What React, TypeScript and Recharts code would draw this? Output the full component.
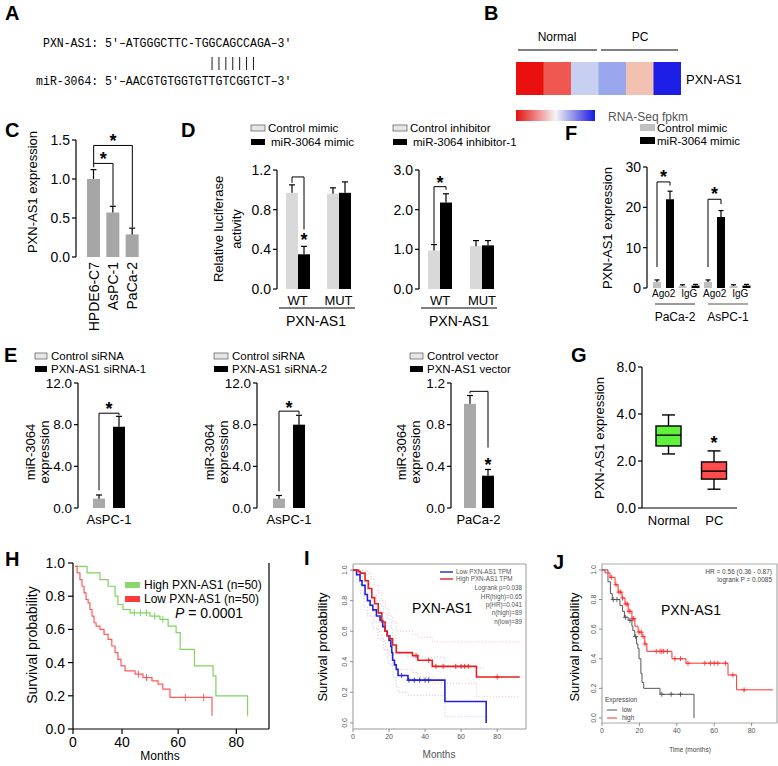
import React from "react";
import {
  BarChart,
  Bar,
  Cell,
  XAxis,
  YAxis,
  ComposedChart,
  Line,
  Scatter,
  ReferenceLine,
  ReferenceArea,
} from "recharts";

const FONT = "'Liberation Sans', Arial, Helvetica, sans-serif";
const MONO = "'Liberation Mono', 'DejaVu Sans Mono', monospace";

// ---------- data ----------
// B: heatmap (relative expression, red = high, blue = low)
const heatSamples = ["N1", "N2", "N3", "PC1", "PC2", "PC3"];
const heatZ = [1.0, 0.72, -0.2, -0.4, 0.3, -0.98];

// C
const cCells = ["HPDE6-C7", "AsPC-1", "PaCa-2"];
const cMean = [1.0, 0.57, 0.29];
const cSem = [0.12, 0.08, 0.08];

// D
const dGroups = ["WT", "MUT"];
const dCtrlMimic = [0.97, 0.96];
const dCtrlMimicSem = [0.08, 0.06];
const dMimic = [0.35, 0.97];
const dMimicSem = [0.08, 0.11];
const dCtrlInh = [0.97, 1.08];
const dCtrlInhSem = [0.15, 0.14];
const dInh = [2.18, 1.1];
const dInhSem = [0.22, 0.12];

// F
const fCats = ["Ago2", "IgG", "Ago2", "IgG"];
const fCtrl = [1.5, 0.5, 1.5, 0.5];
const fCtrlSem = [0.5, 0.3, 0.5, 0.3];
const fMimic = [22, 0.6, 17.6, 0.6];
const fMimicSem = [2.0, 0.3, 1.6, 0.3];

// E
const eCell1 = ["AsPC-1"];
const eCtrl1 = [0.9];
const eCtrl1Sem = [0.35];
const eSi1 = [7.8];
const eSi1Sem = [1.0];
const eCtrl2 = [0.9];
const eCtrl2Sem = [0.3];
const eSi2 = [8.0];
const eSi2Sem = [0.9];
const eCell3 = ["PaCa-2"];
const eCtrlVec = [1.0];
const eCtrlVecSem = [0.08];
const eVec = [0.31];
const eVecSem = [0.06];

// significance brackets (data units)
type Br = { top: number; left: number; right: number; star: number; at: "mid" | "right" } | null;
const dMimicBr: Br[] = [{ top: 1.13, left: 1.07, right: 0.6, star: 0.53, at: "right" }, null];
const dInhBr: Br[] = [{ top: 2.58, left: 1.14, right: 2.5, star: 2.78, at: "mid" }, null];
const fBr: Br[] = [
  { top: 26.3, left: 5.2, right: 25.4, star: 28.6, at: "mid" },
  null,
  { top: 22, left: 5.2, right: 20.8, star: 24.2, at: "mid" },
  null,
];
const e1Br: Br[] = [{ top: 9.1, left: 1.7, right: 8.9, star: 9.9, at: "mid" }];
const e2Br: Br[] = [{ top: 9.3, left: 1.6, right: 9.0, star: 10.0, at: "mid" }];
const e3Br: Br[] = [{ top: 1.12, left: 1.1, right: 0.58, star: 0.45, at: "right" }];

// G box plot
const gGroups = ["Normal", "PC"];
const gMin = [2.3, 0.8];
const gQ1 = [2.64, 1.23];
const gMed = [3.1, 1.57];
const gQ3 = [3.49, 1.96];
const gMax = [3.96, 2.43];
const gStar = [null, 2.95];
const gTicks = [0, 2, 4, 6];
const gTickLabels = ["0.0", "2.0", "4.0", "8.0"];

// H Kaplan-Meier (months, survival)
const hHigh = [
  [1, 0.98], [6.9, 0.94], [13.2, 0.9], [17.2, 0.86], [20.6, 0.8], [22, 0.75], [24.5, 0.72],
  [28, 0.7], [37.7, 0.68], [42.6, 0.66], [46.6, 0.62], [50.5, 0.58], [52.5, 0.48],
  [59.5, 0.38], [68.6, 0.32], [70, 0.2], [85.5, 0.08],
];
const hLow = [
  [1, 0.98], [2, 0.94], [3.4, 0.9], [4.4, 0.86], [5.4, 0.82], [6.4, 0.78], [7.4, 0.76],
  [8.3, 0.72], [9.3, 0.68], [10.3, 0.64], [11.3, 0.62], [13.2, 0.6], [15.2, 0.57],
  [17.2, 0.54], [19, 0.5], [20.6, 0.46], [22, 0.42], [23.5, 0.38], [25.5, 0.35],
  [30.4, 0.33], [34.3, 0.31], [38.7, 0.29], [41.7, 0.27], [44, 0.24], [47.5, 0.19], [68.1, 0.08],
];
const hHighCens = [[30, 0.7], [33, 0.7], [36, 0.7], [40, 0.68], [44, 0.66]];
const hLowCens = [[32, 0.33], [36, 0.31], [55, 0.19], [64, 0.19]];
// tick positions as printed on the original axis, and their labels
const hTicks = [0, 24, 51.5, 80];
const hTickLabels = ["0", "40", "60", "80"];

// I (GEPIA)
const iLow = [
  [0, 1], [2, 0.97], [3.9, 0.93], [5, 0.9], [6.7, 0.84], [8, 0.8], [9.5, 0.77], [11, 0.74],
  [13, 0.7], [15, 0.67], [16.5, 0.63], [17.8, 0.6], [19, 0.57], [20, 0.54], [21, 0.5],
  [21.5, 0.46], [22, 0.41], [23, 0.38], [24, 0.35], [25, 0.31], [30.5, 0.28], [51, 0.14], [73.9, 0],
];
const iHigh = [
  [0, 1], [3, 0.99], [4, 0.98], [6.7, 0.93], [8.5, 0.88], [10.4, 0.82], [12, 0.78], [14, 0.72],
  [16, 0.66], [17.8, 0.6], [19, 0.57], [20.5, 0.55], [22, 0.51], [24, 0.46], [33, 0.44],
  [36, 0.41], [44, 0.37], [68.5, 0.3], [92.5, 0.3],
];
const iHighUp = [
  [0, 1], [6, 1], [8, 0.98], [10, 0.94], [12, 0.9], [14, 0.85], [16, 0.8], [18, 0.75],
  [20, 0.7], [22, 0.66], [24, 0.6], [33, 0.58], [36, 0.56], [44, 0.53], [92.5, 0.53],
];
const iHighLo = [
  [0, 1], [3, 0.96], [5, 0.9], [8, 0.8], [10, 0.73], [12, 0.66], [14, 0.6], [16, 0.54],
  [18, 0.48], [20, 0.44], [22, 0.39], [24, 0.35], [33, 0.33], [36, 0.3], [44, 0.26],
  [68.5, 0.17], [92.5, 0.17],
];
const iLowUp = [
  [0, 1], [3, 1], [5, 0.97], [7, 0.92], [9, 0.88], [11, 0.84], [13, 0.8], [15, 0.77],
  [17, 0.72], [19, 0.68], [21, 0.62], [22, 0.57], [24, 0.5], [25, 0.46], [30.5, 0.43],
  [51, 0.36], [73.9, 0.36],
];
const iLowLo = [
  [0, 1], [2, 0.92], [4, 0.85], [6, 0.76], [8, 0.7], [11, 0.62], [14, 0.55], [17, 0.48],
  [19, 0.42], [20, 0.38], [22, 0.3], [24, 0.24], [25, 0.2], [30.5, 0.18], [51, 0.04], [73.9, 0.04],
];
const iHighCens = [[35, 0.44], [42, 0.41], [46, 0.37], [50, 0.37], [57, 0.37], [60, 0.37], [62, 0.37], [64, 0.37], [80, 0.3]];
const iLowCens = [[27, 0.31], [31, 0.28], [34, 0.28], [37, 0.28], [40, 0.28], [42, 0.28]];
const rTicks = [0, 20, 40, 60, 80];
const rYTicks = [0, 0.2, 0.4, 0.6, 0.8, 1];

// J (KM plotter)
const jLow = [
  [0, 1], [3.2, 0.92], [4.5, 0.84], [5.5, 0.8], [9.6, 0.76], [11, 0.72], [12, 0.68],
  [14, 0.66], [16, 0.62], [16.5, 0.59], [17.5, 0.55], [18.5, 0.5], [19.2, 0.47], [19.8, 0.4],
  [20.8, 0.3], [21.4, 0.24], [22.3, 0.2], [31, 0.16], [49.2, 0],
];
const jHigh = [
  [0, 1], [1.6, 0.98], [4.3, 0.95], [7, 0.9], [8.6, 0.85], [10.7, 0.81], [12.3, 0.77],
  [14, 0.72], [16, 0.67], [17.6, 0.62], [19.3, 0.58], [21.4, 0.55], [22.9, 0.5], [24, 0.45],
  [37.4, 0.4], [44.9, 0.37], [67.4, 0.29], [72, 0.19], [91.4, 0.19],
];
const jHighCens = [
  [5, 0.95], [7.5, 0.9], [9, 0.85], [10, 0.85], [11, 0.81], [12.8, 0.77], [13.5, 0.77],
  [14.5, 0.72], [15, 0.72], [16.5, 0.67], [17, 0.67], [19.8, 0.58], [21, 0.58], [22, 0.55],
  [23, 0.5], [29, 0.45], [31, 0.45], [32, 0.45], [33, 0.45], [35, 0.45], [39, 0.4], [42, 0.4],
  [46, 0.37], [55, 0.37], [58, 0.37], [60, 0.37], [62, 0.37], [66, 0.37], [70, 0.29], [76, 0.19],
];
const jLowCens = [[6, 0.8], [8, 0.8], [12.5, 0.68], [15, 0.66], [18, 0.55], [32, 0.16], [37, 0.16], [42, 0.16]];

// ---------- helpers ----------
const pts = (a: number[][]) => a.map(([m, s]) => ({ m, s }));
const fmt1 = (v: number) => v.toFixed(1);

function mix(a: number[], b: number[], t: number) {
  return a.map((v, i) => Math.round(v + (b[i] - v) * t));
}
function zColor(z: number) {
  const t = Math.min(1, Math.abs(z));
  const white = [246, 246, 246];
  const mid = z > 0 ? [243, 184, 166] : [164, 180, 238];
  const end = z > 0 ? [234, 16, 16] : [26, 26, 230];
  const c = t < 0.35 ? mix(white, mid, t / 0.35) : mix(mid, end, (t - 0.35) / 0.65);
  return `rgb(${c.join(",")})`;
}

function makeBarShape(fill: string, stroke: string | undefined, valKey: string, errKey: string, gap: number, cap: number, brKey?: string) {
  return (p: any) => {
    const { x, y, width, height, payload } = p;
    const v = payload[valKey];
    const ppu = v > 0 ? height / v : 0;
    const zero = y + height;
    const toY = (d: number) => zero - d * ppu;
    const cx = x + width / 2;
    const eTop = toY(v + payload[errKey]);
    const br: Br = brKey ? payload[brKey] : null;
    let brEl = null;
    if (br) {
      const gx = x - gap - width / 2;
      const sx = br.at === "mid" ? (gx + cx) / 2 : cx;
      brEl = (
        <g>
          <path d={`M${gx},${toY(br.left)}V${toY(br.top)}H${cx}V${toY(br.right)}`} fill="none" stroke="#000" strokeWidth={1} />
          <text x={sx} y={toY(br.star) + 10} textAnchor="middle" fontSize={18} fontWeight="bold" fontFamily={FONT}>*</text>
        </g>
      );
    }
    return (
      <g>
        <rect x={x} y={y} width={width} height={height} fill={fill} stroke={stroke ?? "none"} strokeWidth={stroke ? 0.6 : 0} />
        <line x1={cx} x2={cx} y1={y} y2={eTop} stroke="#000" strokeWidth={1.2} />
        <line x1={cx - cap / 2} x2={cx + cap / 2} y1={eTop} y2={eTop} stroke="#000" strokeWidth={1.2} />
        {brEl}
      </g>
    );
  };
}

type GBProps = {
  x0: number; x1: number; yT: number; yB: number;
  rows: any[]; ticks: number[]; fmt: (v: number) => string;
  colA: string; strokeA?: string; barSize: number; barGap: number; xPad?: number;
  xTick?: any; xTickSize?: number; xTickFont?: number; padB?: number; cap?: number; yFont?: number;
  children?: React.ReactNode;
};

function GroupBars(pr: GBProps) {
  const padL = 46, padT = 18, padR = 4;
  const padB = pr.padB ?? 30;
  const W = pr.x1 - pr.x0 + padL + padR;
  const H = pr.yB - pr.yT + padT + padB;
  const cap = pr.cap ?? 6;
  return (
    <div style={{ position: "absolute", left: pr.x0 - padL, top: pr.yT - padT }}>
      <BarChart width={W} height={H} data={pr.rows} margin={{ top: padT, right: padR, left: 0, bottom: 0 }} barGap={pr.barGap} barSize={pr.barSize}>
        <XAxis
          dataKey="key"
          height={padB}
          axisLine={false}
          tickLine={false}
          tickSize={pr.xTickSize ?? 5}
          tickMargin={2}
          interval={0}
          padding={{ left: pr.xPad ?? 0, right: 0 }}
          tick={pr.xTick ?? { fontSize: pr.xTickFont ?? 13, fill: "#000", fontFamily: FONT }}
          tickFormatter={(v: any, i: number) => pr.rows[i]?.label ?? v}
        />
        <YAxis
          width={padL}
          type="number"
          domain={[0, pr.ticks[pr.ticks.length - 1]]}
          ticks={pr.ticks}
          interval={0}
          tickFormatter={pr.fmt}
          tickSize={4}
          tickMargin={2}
          axisLine={{ stroke: "#000", strokeWidth: 1.2 }}
          tickLine={{ stroke: "#000", strokeWidth: 1.2 }}
          tick={{ fontSize: pr.yFont ?? 14, fill: "#000", fontFamily: FONT }}
        />
        <Bar dataKey="a" isAnimationActive={false} shape={makeBarShape(pr.colA, pr.strokeA, "a", "aE", pr.barGap, cap)} />
        {pr.rows[0].b !== undefined && (
          <Bar dataKey="b" isAnimationActive={false} shape={makeBarShape("#000", undefined, "b", "bE", pr.barGap, cap, "br")} />
        )}
        {pr.children}
      </BarChart>
    </div>
  );
}

const RotTick = (p: any) => (
  <text x={p.x} y={p.y} transform={`rotate(-90 ${p.x} ${p.y})`} textAnchor="end" dy={5} fontSize={14} fontFamily={FONT} fill="#000">
    {p.payload.value}
  </text>
);

const BoxShape = (p: any) => {
  const { x, y, width, height, payload } = p;
  const span = payload.q3 - payload.q1;
  const ppu = height / span;
  const toY = (d: number) => y + (payload.q3 - d) * ppu;
  const cx = x + width / 2;
  const cw = 13;
  return (
    <g stroke="#000" strokeWidth={1.4}>
      <line x1={cx} x2={cx} y1={toY(payload.max)} y2={y} />
      <line x1={cx} x2={cx} y1={y + height} y2={toY(payload.min)} />
      <line x1={cx - cw / 2} x2={cx + cw / 2} y1={toY(payload.max)} y2={toY(payload.max)} />
      <line x1={cx - cw / 2} x2={cx + cw / 2} y1={toY(payload.min)} y2={toY(payload.min)} />
      <rect x={x} y={y} width={width} height={height} fill={payload.color} />
      <line x1={x} x2={x + width} y1={toY(payload.med)} y2={toY(payload.med)} />
      {payload.star != null && (
        <text x={cx} y={toY(payload.star) + 10} textAnchor="middle" fontSize={18} fontWeight="bold" stroke="none" fill="#000" fontFamily={FONT}>*</text>
      )}
    </g>
  );
};

const vTick = (col: string) => (p: any) => (
  <line x1={p.cx} x2={p.cx} y1={p.cy - 3.5} y2={p.cy + 3.5} stroke={col} strokeWidth={1} />
);
const plusTick = (col: string) => (p: any) => (
  <g stroke={col} strokeWidth={0.9}>
    <line x1={p.cx} x2={p.cx} y1={p.cy - 2.5} y2={p.cy + 2.5} />
    <line x1={p.cx - 2.5} x2={p.cx + 2.5} y1={p.cy} y2={p.cy} />
  </g>
);
const RYTick = (p: any) => (
  <text transform={`translate(${p.x},${p.y}) rotate(-90)`} textAnchor="middle" fontSize={7} fill="#555" fontFamily={FONT}>
    {Number(p.payload.value).toFixed(1)}
  </text>
);

function VText({ x, y, size = 13, children }: { x: number; y: number; size?: number; children: React.ReactNode }) {
  return (
    <text transform={`translate(${x},${y}) rotate(-90)`} textAnchor="middle" dominantBaseline="central" fontSize={size} fontFamily={FONT} fill="#000">
      {children}
    </text>
  );
}

function Swatch({ x, y, w, h, fill, stroke, label, tx, ty, size = 11.5 }: any) {
  return (
    <g>
      <rect x={x} y={y} width={w} height={h} fill={fill} stroke={stroke ?? "none"} strokeWidth={stroke ? 0.8 : 0} />
      <text x={tx} y={ty} fontSize={size} fontFamily={FONT} fill="#000">{label}</text>
    </g>
  );
}

export default function App() {
  const heatRows = heatSamples.map((s, i) => ({ s, z: heatZ[i] }));
  const cRows = cCells.map((c, i) => ({ key: c, label: c, a: cMean[i], aE: cSem[i] }));
  const d1Rows = dGroups.map((g, i) => ({ key: g, label: g, a: dCtrlMimic[i], aE: dCtrlMimicSem[i], b: dMimic[i], bE: dMimicSem[i], br: dMimicBr[i] }));
  const d2Rows = dGroups.map((g, i) => ({ key: g, label: g, a: dCtrlInh[i], aE: dCtrlInhSem[i], b: dInh[i], bE: dInhSem[i], br: dInhBr[i] }));
  const fRows = fCats.map((c, i) => ({ key: `${c}-${i}`, label: c, a: fCtrl[i], aE: fCtrlSem[i], b: fMimic[i], bE: fMimicSem[i], br: fBr[i] }));
  const e1Rows = eCell1.map((c, i) => ({ key: c, label: c, a: eCtrl1[i], aE: eCtrl1Sem[i], b: eSi1[i], bE: eSi1Sem[i], br: e1Br[i] }));
  const e2Rows = eCell1.map((c, i) => ({ key: c, label: c, a: eCtrl2[i], aE: eCtrl2Sem[i], b: eSi2[i], bE: eSi2Sem[i], br: e2Br[i] }));
  const e3Rows = eCell3.map((c, i) => ({ key: c, label: c, a: eCtrlVec[i], aE: eCtrlVecSem[i], b: eVec[i], bE: eVecSem[i], br: e3Br[i] }));
  const gColors = ["#5ff23a", "#ff4b4b"];
  const gRows = gGroups.map((g, i) => ({ name: g, min: gMin[i], q1: gQ1[i], med: gMed[i], q3: gQ3[i], max: gMax[i], star: gStar[i], color: gColors[i] }));

  const seqTop = "PXN-AS1: 5'–ATGGGCTTC-TGGCAGCCAGA–3'";
  const seqBot = "miR-3064: 5'–AACGTGTGGTGTTGTCGGTCT–3'";
  const cw = 6.9;
  const seqX = 43;

  const ax = { stroke: "#000", strokeWidth: 1.2 };
  const rAx = { stroke: "#777", strokeWidth: 0.8 };
  const rTickStyle = { fontSize: 7, fill: "#555", fontFamily: FONT };

  return (
    <div style={{ position: "absolute", left: 0, top: 0, width: 778, height: 766, background: "#fff", overflow: "hidden", fontFamily: FONT }}>
      {/* B heatmap */}
      <div style={{ position: "absolute", left: 516, top: 62 }}>
        <BarChart width={165} height={33} data={heatRows} margin={{ top: 0, right: 0, left: 0, bottom: 0 }} barCategoryGap={0}>
          <XAxis dataKey="s" hide />
          <YAxis hide domain={[0, 1]} />
          <Bar dataKey={() => 1} isAnimationActive={false}>
            {heatRows.map((r, i) => (
              <Cell key={i} fill={zColor(r.z)} />
            ))}
          </Bar>
        </BarChart>
      </div>

      {/* C */}
      <GroupBars x0={76} x1={142} yT={140} yB={257} rows={cRows} ticks={[0, 0.5, 1, 1.5]} fmt={fmt1} colA="#a6a6a6" barSize={13} barGap={0} xPad={8} xTick={RotTick} xTickSize={3} padB={90}>
        <ReferenceLine segment={[{ x: "HPDE6-C7", y: 1.2 }, { x: "AsPC-1", y: 1.2 }]} stroke="#000" label={{ value: "*", position: "top", fontSize: 18, fontWeight: "bold", fill: "#000", offset: -2 }} />
        <ReferenceLine segment={[{ x: "AsPC-1", y: 1.2 }, { x: "AsPC-1", y: 0.66 }]} stroke="#000" />
        <ReferenceLine segment={[{ x: "HPDE6-C7", y: 1.43 }, { x: "PaCa-2", y: 1.43 }]} stroke="#000" label={{ value: "*", position: "top", fontSize: 18, fontWeight: "bold", fill: "#000", offset: -2 }} />
        <ReferenceLine segment={[{ x: "HPDE6-C7", y: 1.43 }, { x: "HPDE6-C7", y: 1.15 }]} stroke="#000" />
        <ReferenceLine segment={[{ x: "PaCa-2", y: 1.43 }, { x: "PaCa-2", y: 0.38 }]} stroke="#000" />
      </GroupBars>

      {/* D */}
      <GroupBars x0={277} x1={359} yT={170} yB={289} rows={d1Rows} ticks={[0, 0.4, 0.8, 1.2]} fmt={fmt1} colA="#d9d9d9" barSize={12} barGap={0} />
      <GroupBars x0={419} x1={503} yT={170} yB={289} rows={d2Rows} ticks={[0, 1, 2, 3]} fmt={fmt1} colA="#d9d9d9" barSize={12} barGap={0} />

      {/* F */}
      <GroupBars x0={647} x1={753} yT={167} yB={288} rows={fRows} ticks={[0, 10, 20, 30]} fmt={(v) => String(v)} colA="#c0c0c0" barSize={8} barGap={5} xPad={4} xTickSize={0} xTickFont={10} cap={5} />

      {/* E */}
      <GroupBars x0={78} x1={140} yT={383} yB={508} rows={e1Rows} ticks={[0, 4, 8, 12]} fmt={fmt1} colA="#a9a9a9" barSize={12} barGap={8} yFont={13.5} />
      <GroupBars x0={257} x1={321} yT={383} yB={508} rows={e2Rows} ticks={[0, 4, 8, 12]} fmt={fmt1} colA="#a9a9a9" barSize={12} barGap={8} yFont={13.5} />
      <GroupBars x0={451} x1={506} yT={383} yB={508} rows={e3Rows} ticks={[0, 0.4, 0.8, 1.2]} fmt={fmt1} colA="#a9a9a9" barSize={12} barGap={6} yFont={13.5} />

      {/* G */}
      <div style={{ position: "absolute", left: 642 - 46, top: 367 - 14 }}>
        <ComposedChart width={95 + 46 + 6} height={141 + 14 + 30} data={gRows} margin={{ top: 14, right: 6, left: 0, bottom: 0 }} barSize={25}>
          <XAxis dataKey="name" height={30} axisLine={ax} tickLine={false} tickSize={6} tickMargin={2} padding={{ left: 4, right: 0 }} tick={{ fontSize: 13, fill: "#000", fontFamily: FONT }} />
          <YAxis width={46} type="number" domain={[0, 6]} ticks={gTicks} interval={0} tickFormatter={(v: number) => gTickLabels[gTicks.indexOf(v)]} tickSize={4} tickMargin={2} axisLine={ax} tickLine={ax} tick={{ fontSize: 14, fill: "#000", fontFamily: FONT }} />
          <Bar dataKey="q1" stackId="box" fill="none" isAnimationActive={false} />
          <Bar dataKey={(d: any) => d.q3 - d.q1} stackId="box" isAnimationActive={false} shape={BoxShape} />
        </ComposedChart>
      </div>

      {/* H */}
      <div style={{ position: "absolute", left: 73 - 45, top: 563 - 10 }}>
        <ComposedChart width={196 + 45 + 4} height={166 + 10 + 30} margin={{ top: 10, right: 4, left: 0, bottom: 0 }}>
          <XAxis type="number" dataKey="m" domain={[0, 96]} ticks={hTicks} interval={0} tickFormatter={(v: number) => hTickLabels[hTicks.indexOf(v)]} height={30} tickSize={5} tickMargin={3} axisLine={ax} tickLine={ax} tick={{ fontSize: 14, fill: "#000", fontFamily: FONT }} />
          <YAxis type="number" dataKey="s" domain={[0, 1]} ticks={rYTicks} interval={0} tickFormatter={fmt1} width={45} tickSize={5} tickMargin={3} axisLine={ax} tickLine={ax} tick={{ fontSize: 14, fill: "#000", fontFamily: FONT }} />
          <ReferenceLine x={96} stroke="#000" strokeWidth={1.2} />
          <Line data={pts(hHigh)} dataKey="s" type="stepAfter" stroke="#7fd35e" strokeWidth={1.2} dot={false} isAnimationActive={false} />
          <Line data={pts(hLow)} dataKey="s" type="stepAfter" stroke="#ff5a5a" strokeWidth={1.2} dot={false} isAnimationActive={false} />
          <Scatter data={pts(hHighCens)} dataKey="s" shape={vTick("#7fd35e")} isAnimationActive={false} />
          <Scatter data={pts(hLowCens)} dataKey="s" shape={vTick("#ff5a5a")} isAnimationActive={false} />
        </ComposedChart>
      </div>

      {/* I */}
      <div style={{ position: "absolute", left: 353 - 20, top: 564 - 4 }}>
        <ComposedChart width={173 + 20 + 4} height={165 + 4 + 20} margin={{ top: 4, right: 4, left: 0, bottom: 0 }}>
          <XAxis type="number" dataKey="m" domain={[0, 96]} ticks={rTicks} interval={0} height={20} tickSize={3} tickMargin={2} axisLine={false} tickLine={rAx} tick={rTickStyle} />
          <YAxis type="number" dataKey="s" domain={[-0.04, 1.04]} ticks={rYTicks} interval={0} width={20} tickSize={3} tickMargin={3} axisLine={false} tickLine={rAx} tick={RYTick} />
          <ReferenceArea x1={0} x2={96} y1={-0.04} y2={1.04} fill="none" stroke="#999" strokeWidth={1} />
          <Line data={pts(iHighUp)} dataKey="s" type="stepAfter" stroke="#f6a5a5" strokeWidth={0.8} strokeDasharray="1 2" dot={false} isAnimationActive={false} />
          <Line data={pts(iHighLo)} dataKey="s" type="stepAfter" stroke="#f6a5a5" strokeWidth={0.8} strokeDasharray="1 2" dot={false} isAnimationActive={false} />
          <Line data={pts(iLowUp)} dataKey="s" type="stepAfter" stroke="#a9b0f2" strokeWidth={0.8} strokeDasharray="1 2" dot={false} isAnimationActive={false} />
          <Line data={pts(iLowLo)} dataKey="s" type="stepAfter" stroke="#a9b0f2" strokeWidth={0.8} strokeDasharray="1 2" dot={false} isAnimationActive={false} />
          <Line data={pts(iLow)} dataKey="s" type="stepAfter" stroke="#2222dd" strokeWidth={1.6} dot={false} isAnimationActive={false} />
          <Line data={pts(iHigh)} dataKey="s" type="stepAfter" stroke="#e62020" strokeWidth={1.6} dot={false} isAnimationActive={false} />
          <Scatter data={pts(iHighCens)} dataKey="s" shape={plusTick("#e62020")} isAnimationActive={false} />
          <Scatter data={pts(iLowCens)} dataKey="s" shape={plusTick("#2222dd")} isAnimationActive={false} />
        </ComposedChart>
      </div>

      {/* J */}
      <div style={{ position: "absolute", left: 602 - 20, top: 564 - 4 }}>
        <ComposedChart width={175 + 20 + 1} height={159 + 4 + 20} margin={{ top: 4, right: 1, left: 0, bottom: 0 }}>
          <XAxis type="number" dataKey="m" domain={[0, 93.6]} ticks={rTicks} interval={0} height={20} tickSize={3} tickMargin={2} axisLine={false} tickLine={rAx} tick={rTickStyle} />
          <YAxis type="number" dataKey="s" domain={[-0.034, 1.04]} ticks={rYTicks} interval={0} width={20} tickSize={3} tickMargin={3} axisLine={false} tickLine={rAx} tick={RYTick} />
          <ReferenceArea x1={0} x2={93.6} y1={-0.034} y2={1.04} fill="none" stroke="#aaa" strokeWidth={1.2} />
          <Line data={pts(jLow)} dataKey="s" type="stepAfter" stroke="#555" strokeWidth={1} dot={false} isAnimationActive={false} />
          <Line data={pts(jHigh)} dataKey="s" type="stepAfter" stroke="#ff3030" strokeWidth={1} dot={false} isAnimationActive={false} />
          <Scatter data={pts(jLowCens)} dataKey="s" shape={plusTick("#555")} isAnimationActive={false} />
          <Scatter data={pts(jHighCens)} dataKey="s" shape={plusTick("#ff3030")} isAnimationActive={false} />
        </ComposedChart>
      </div>

      {/* annotations */}
      <svg width={778} height={766} style={{ position: "absolute", left: 0, top: 0, pointerEvents: "none" }}>
        <defs>
          <linearGradient id="fpkm" x1="0" y1="0" x2="1" y2="0">
            <stop offset="0%" stopColor="#e81010" />
            <stop offset="50%" stopColor="#f5f5f5" />
            <stop offset="100%" stopColor="#1818e2" />
          </linearGradient>
        </defs>
        <g fontFamily={FONT} fontWeight="bold" fontSize={20} fill="#000">
          <text x={5} y={20}>A</text>
          <text x={484} y={20}>B</text>
          <text x={5} y={137}>C</text>
          <text x={181} y={137}>D</text>
          <text x={565} y={140}>F</text>
          <text x={4} y={362}>E</text>
          <text x={571} y={362}>G</text>
          <text x={5} y={566}>H</text>
          <text x={304} y={565}>I</text>
          <text x={553} y={569}>J</text>
        </g>

        {/* A */}
        <text x={seqX} y={47} fontFamily={MONO} fontSize={12.5} fill="#000" textLength={seqTop.length * cw} lengthAdjust="spacingAndGlyphs">{seqTop}</text>
        {Array.from({ length: 7 }, (_, i) => (
          <line key={i} x1={seqX + (24.5 + i) * cw} x2={seqX + (24.5 + i) * cw} y1={57} y2={70} stroke="#000" strokeWidth={0.9} />
        ))}
        <text x={seqX - cw} y={85} fontFamily={MONO} fontSize={12.5} fill="#000" textLength={seqBot.length * cw} lengthAdjust="spacingAndGlyphs">{seqBot}</text>

        {/* B */}
        <g fontFamily={FONT} fill="#000">
          <text x={557} y={41} fontSize={12} textAnchor="middle">Normal</text>
          <text x={640} y={41} fontSize={12} textAnchor="middle">PC</text>
          <line x1={518} x2={597} y1={50} y2={50} stroke="#000" strokeWidth={1} />
          <line x1={601} x2={678} y1={50} y2={50} stroke="#000" strokeWidth={1} />
          <text x={686} y={84} fontSize={13}>PXN-AS1</text>
          <rect x={516} y={110} width={79} height={11} fill="url(#fpkm)" />
          <text x={608} y={121} fontSize={12} fill="#555">RNA-Seq fpkm</text>
        </g>

        {/* C */}
        <VText x={32} y={192}>PXN-AS1 expression</VText>

        {/* D */}
        <Swatch x={251} y={125} w={14} h={6} fill="#e6e6e6" stroke="#666" label="Control mimic" tx={268} ty={132} />
        <Swatch x={251} y={139} w={14} h={6} fill="#000" label="miR-3064 mimic" tx={271} ty={146} />
        <Swatch x={393} y={125} w={14} h={6} fill="#e6e6e6" stroke="#666" label="Control inhibitor" tx={410} ty={132} />
        <Swatch x={393} y={139} w={14} h={6} fill="#000" label="miR-3064 inhibitor-1" tx={413} ty={146} />
        <VText x={218} y={229}>Relative luciferase</VText>
        <VText x={236} y={229}>activity</VText>
        <line x1={279} x2={355} y1={308} y2={308} stroke="#000" strokeWidth={1} />
        <line x1={421} x2={497} y1={308} y2={308} stroke="#000" strokeWidth={1} />
        <text x={316} y={326} fontSize={14} textAnchor="middle" fontFamily={FONT}>PXN-AS1</text>
        <text x={459} y={326} fontSize={14} textAnchor="middle" fontFamily={FONT}>PXN-AS1</text>

        {/* F */}
        <Swatch x={640} y={124} w={15} h={7} fill="#c0c0c0" label="Control mimic" tx={657} ty={132} />
        <Swatch x={640} y={137} w={15} h={7} fill="#000" label="miR-3064 mimic" tx={657} ty={145} />
        <VText x={607} y={228}>PXN-AS1 expression</VText>
        <line x1={655} x2={695} y1={304} y2={304} stroke="#333" strokeWidth={1} />
        <line x1={708} x2={748} y1={304} y2={304} stroke="#555" strokeWidth={1} />
        <text x={675} y={321} fontSize={12} textAnchor="middle" fontFamily={FONT}>PaCa-2</text>
        <text x={728} y={321} fontSize={12} textAnchor="middle" fontFamily={FONT}>AsPC-1</text>

        {/* E */}
        <Swatch x={35} y={353} w={12} h={6} fill="#e6e6e6" stroke="#666" label="Control siRNA" tx={51} ty={360} />
        <Swatch x={35} y={366} w={12} h={6} fill="#000" label="PXN-AS1 siRNA-1" tx={51} ty={373} />
        <VText x={30} y={452}>miR-3064</VText>
        <VText x={44} y={452}>expression</VText>
        <Swatch x={214} y={353} w={14} h={6} fill="#e6e6e6" stroke="#666" label="Control siRNA" tx={232} ty={360} />
        <Swatch x={214} y={366} w={14} h={6} fill="#000" label="PXN-AS1 siRNA-2" tx={232} ty={373} />
        <VText x={209} y={452}>miR-3064</VText>
        <VText x={223} y={452}>expression</VText>
        <Swatch x={410} y={353} w={13} h={6} fill="#e6e6e6" stroke="#666" label="Control vector" tx={427} ty={360} />
        <Swatch x={410} y={366} w={13} h={6} fill="#000" label="PXN-AS1 vector" tx={427} ty={373} />
        <VText x={401} y={452}>miR-3064</VText>
        <VText x={415} y={452}>expression</VText>

        {/* G */}
        <VText x={599} y={438}>PXN-AS1 expression</VText>

        {/* H */}
        <VText x={32} y={645} size={14}>Survival probability</VText>
        <Swatch x={125} y={582} w={15} h={6} fill="#8ad86a" label="High PXN-AS1 (n=50)" tx={144} ty={589} size={12} />
        <Swatch x={125} y={596} w={15} h={6} fill="#ff3a3a" label="Low PXN-AS1 (n=50)" tx={144} ty={603} size={12} />
        <text x={175} y={618} fontSize={14} fontFamily={FONT}>
          <tspan fontStyle="italic">P</tspan> = 0.0001
        </text>
        <text x={160} y={760} fontSize={12} textAnchor="middle" fontFamily={FONT}>Months</text>

        {/* I */}
        <VText x={322} y={647}>Survival probability</VText>
        <line x1={440} x2={453} y1={572} y2={572} stroke="#2222dd" strokeWidth={1.4} />
        <line x1={440} x2={453} y1={579} y2={579} stroke="#e62020" strokeWidth={1.4} />
        <g fontSize={6.3} fill="#555" fontFamily={FONT}>
          <text x={456} y={574}>Low PXN-AS1 TPM</text>
          <text x={456} y={581}>High PXN-AS1 TPM</text>
          <g textAnchor="end">
            <text x={522} y={590}>Logrank p=0.038</text>
            <text x={522} y={599}>HR(high)=0.65</text>
            <text x={522} y={607}>p(HR)=0.041</text>
            <text x={522} y={615}>n(high)=89</text>
            <text x={522} y={624}>n(low)=89</text>
          </g>
        </g>
        <text x={442} y={613} fontSize={14} textAnchor="middle" fontFamily={FONT}>PXN-AS1</text>
        <text x={439} y={758} fontSize={10} textAnchor="middle" fill="#555" fontFamily={FONT}>Months</text>

        {/* J */}
        <VText x={574} y={647}>Survival probability</VText>
        <g fontSize={6.5} fill="#444" fontFamily={FONT}>
          <text x={772} y={574} textAnchor="end">HR = 0.56 (0.36 - 0.87)</text>
          <text x={772} y={582} textAnchor="end">logrank P = 0.0085</text>
          <text x={605} y={702}>Expression</text>
          <text x={622} y={712}>low</text>
          <text x={622} y={720}>high</text>
          <text x={690} y={752} textAnchor="middle">Time (months)</text>
        </g>
        <line x1={607} x2={617} y1={710} y2={710} stroke="#555" strokeWidth={1} />
        <line x1={607} x2={617} y1={718} y2={718} stroke="#ff3030" strokeWidth={1} />
        <text x={691} y={615} fontSize={14} textAnchor="middle" fontFamily={FONT}>PXN-AS1</text>
      </svg>
    </div>
  );
}
